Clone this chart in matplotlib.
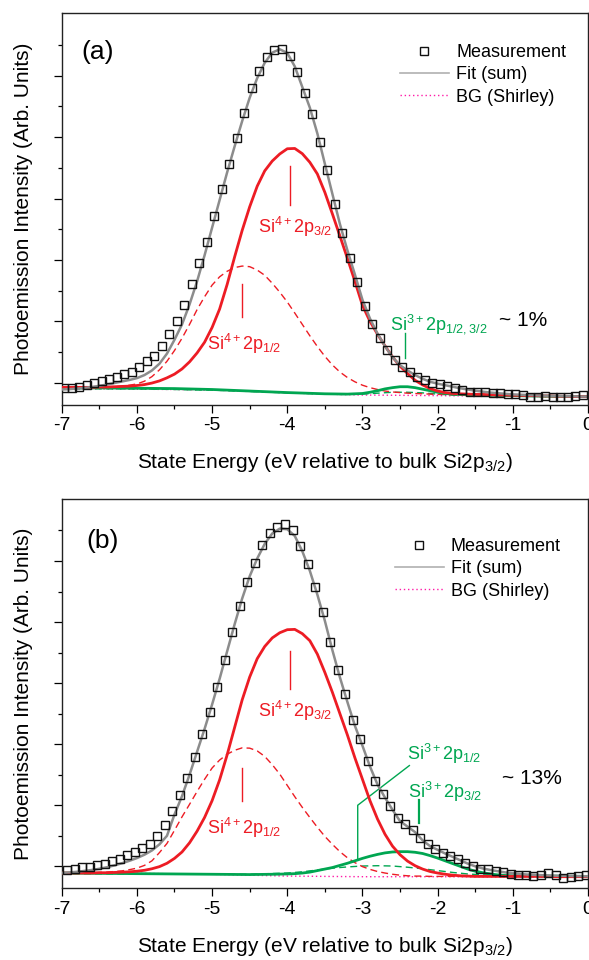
import numpy as np
import matplotlib
matplotlib.use("Agg")
import matplotlib.pyplot as plt
from matplotlib.lines import Line2D

plt.rcParams['font.family'] = ['Liberation Sans', 'DejaVu Sans']
plt.rcParams['mathtext.fontset'] = 'custom'
plt.rcParams['mathtext.rm'] = 'Liberation Sans'
plt.rcParams['mathtext.it'] = 'Liberation Sans:italic'
plt.rcParams['mathtext.bf'] = 'Liberation Sans:bold'
plt.rcParams['axes.unicode_minus'] = False

# Energy grids (eV relative to bulk Si2p3/2)
x_fit = np.round(np.linspace(-7.0, 0.0, 71), 2)
x_meas_a = np.round(np.linspace(-6.97, -0.07, 70), 2)
x_meas_b = np.round(np.linspace(-6.93, -0.03, 70), 2)

# ---------------- panel (a) ----------------
meas_a = [-0.16, -0.16, -0.13, -0.07, 0.00, 0.05, 0.11, 0.20, 0.27, 0.36,
          0.50, 0.70, 0.88, 1.20, 1.59, 2.02, 2.54, 3.20, 3.89, 4.57,
          5.44, 6.30, 7.13, 7.97, 8.77, 9.60, 10.14, 10.62, 10.84, 10.87,
          10.65, 10.11, 9.43, 8.76, 7.85, 6.93, 5.82, 4.89, 4.06, 3.29,
          2.50, 1.92, 1.47, 1.07, 0.73, 0.50, 0.35, 0.20, 0.10, 0.00,
          -0.05, -0.12, -0.17, -0.24, -0.31, -0.29, -0.29, -0.32, -0.35, -0.36,
          -0.38, -0.40, -0.45, -0.46, -0.44, -0.46, -0.48, -0.46, -0.43, -0.40]
fit_a = [-0.22, -0.21, -0.19, -0.17, -0.14, -0.10, -0.06, -0.01, 0.04, 0.09,
         0.15, 0.25, 0.40, 0.62, 0.95, 1.40, 1.90, 2.55, 3.30, 4.15,
         5.05, 5.95, 6.85, 7.70, 8.52, 9.28, 9.92, 10.42, 10.75, 10.86,
         10.74, 10.30, 9.63, 8.96, 8.12, 7.13, 6.15, 5.17, 4.31, 3.52,
         2.70, 2.09, 1.60, 1.19, 0.83, 0.57, 0.40, 0.25, 0.13, 0.03,
         -0.03, -0.08, -0.13, -0.18, -0.22, -0.26, -0.29, -0.32, -0.34, -0.36,
         -0.38, -0.39, -0.40, -0.41, -0.42, -0.43, -0.43, -0.44, -0.44, -0.45,
         -0.45]
si4_32_a = [-0.15, -0.15, -0.15, -0.15, -0.15, -0.14, -0.14, -0.13, -0.12, -0.11,
            -0.09, -0.06, -0.01, 0.06, 0.16, 0.28, 0.45, 0.68, 0.97, 1.32,
            1.80, 2.40, 3.20, 4.10, 4.96, 5.73, 6.40, 6.90, 7.22, 7.45,
            7.62, 7.63, 7.46, 7.18, 6.80, 6.20, 5.50, 4.78, 4.05, 3.30,
            2.52, 2.00, 1.58, 1.20, 0.84, 0.54, 0.30, 0.08, -0.07, -0.19,
            -0.27, -0.32, -0.35, -0.36, -0.37, -0.38, -0.38, -0.39, -0.40, -0.40,
            -0.41, -0.41, -0.42, -0.42, -0.43, -0.43, -0.44, -0.44, -0.45, -0.45,
            -0.45]
si4_12_a = [-0.17, -0.17, -0.17, -0.16, -0.16, -0.15, -0.14, -0.13, -0.11, -0.08,
            -0.04, 0.05, 0.20, 0.42, 0.70, 1.05, 1.45, 1.90, 2.38, 2.80,
            3.18, 3.45, 3.63, 3.75, 3.80, 3.78, 3.67, 3.50, 3.24, 2.95,
            2.63, 2.27, 1.90, 1.53, 1.18, 0.86, 0.58, 0.35, 0.17, 0.03,
            -0.08, -0.16, -0.22, -0.27, -0.30, -0.32, -0.34, -0.35, -0.36, -0.37,
            -0.38, -0.38, -0.39, -0.39, -0.40, -0.40, -0.41, -0.41, -0.41, -0.42,
            -0.42, -0.42, -0.43, -0.43, -0.43, -0.44, -0.44, -0.44, -0.45, -0.45,
            -0.45]
si3_x_a = [-7.0, -6.5, -6.0, -5.5, -5.0, -4.5, -4.0, -3.5, -3.2, -3.0, -2.9, -2.8,
           -2.7, -2.6, -2.5, -2.4, -2.3, -2.2, -2.1, -2.0, -1.9, -1.8, -1.5, -1.0,
           -0.5, 0.0]
si3_a = [-0.17, -0.17, -0.18, -0.19, -0.22, -0.27, -0.32, -0.36, -0.37, -0.35, -0.31, -0.26,
         -0.20, -0.16, -0.13, -0.13, -0.16, -0.21, -0.26, -0.31, -0.35, -0.37, -0.40, -0.42,
         -0.44, -0.45]
si3d_x_a = [-7.0, -6.0, -5.0, -4.0, -3.3, -3.0, -2.8, -2.6, -2.4, -2.2, -2.0, -1.8,
            -1.5, -1.0, -0.5, 0.0]
si3d_a = [-0.19, -0.20, -0.24, -0.33, -0.38, -0.37, -0.34, -0.31, -0.31, -0.33, -0.37, -0.40,
          -0.42, -0.44, -0.45, -0.46]
bg_x_a = [-7.0, -6.5, -6.0, -5.5, -5.0, -4.5, -4.0, -3.5, -3.0, -2.5, -2.0, -1.5,
          -1.0, -0.5, 0.0]
bg_a = [-0.20, -0.20, -0.21, -0.22, -0.24, -0.28, -0.33, -0.37, -0.40, -0.41, -0.42, -0.43,
        -0.44, -0.45, -0.46]

# ---------------- panel (b) ----------------
meas_b = [-0.12, -0.08, -0.01, -0.01, 0.03, 0.08, 0.17, 0.25, 0.36, 0.47,
          0.60, 0.72, 0.98, 1.35, 1.80, 2.35, 2.90, 3.59, 4.32, 5.06,
          5.87, 6.77, 7.67, 8.53, 9.32, 9.93, 10.52, 10.92, 11.11, 11.22,
          11.03, 10.49, 9.91, 9.15, 8.33, 7.36, 6.42, 5.64, 4.79, 4.16,
          3.46, 2.81, 2.38, 1.96, 1.59, 1.37, 1.18, 0.93, 0.72, 0.58,
          0.45, 0.34, 0.23, 0.12, 0.01, -0.08, -0.10, -0.15, -0.19, -0.26,
          -0.29, -0.29, -0.32, -0.29, -0.23, -0.29, -0.37, -0.35, -0.32, -0.29]
fit_b = [-0.22, -0.20, -0.18, -0.15, -0.12, -0.08, -0.03, 0.03, 0.10, 0.18,
         0.27, 0.38, 0.52, 0.72, 1.00, 1.70, 2.30, 3.00, 3.75, 4.50,
         5.30, 6.14, 7.04, 7.93, 8.77, 9.50, 10.08, 10.56, 10.90, 11.06,
         11.04, 10.82, 10.32, 9.68, 8.90, 8.04, 7.08, 6.19, 5.38, 4.60,
         3.95, 3.27, 2.68, 2.25, 1.85, 1.48, 1.30, 1.12, 0.85, 0.66,
         0.54, 0.42, 0.31, 0.20, 0.09, 0.00, -0.07, -0.12, -0.16, -0.20,
         -0.23, -0.25, -0.27, -0.28, -0.29, -0.30, -0.31, -0.31, -0.32, -0.32,
         -0.33]
si4_32_b = [-0.22, -0.22, -0.22, -0.22, -0.22, -0.21, -0.21, -0.20, -0.19, -0.18,
            -0.16, -0.13, -0.08, -0.01, 0.10, 0.26, 0.47, 0.77, 1.15, 1.60,
            2.15, 2.83, 3.65, 4.55, 5.45, 6.20, 6.80, 7.20, 7.48, 7.65,
            7.75, 7.76, 7.62, 7.39, 6.95, 6.35, 5.70, 5.00, 4.30, 3.55,
            2.85, 2.15, 1.55, 1.05, 0.66, 0.38, 0.17, 0.02, -0.09, -0.17,
            -0.22, -0.26, -0.29, -0.31, -0.32, -0.33, -0.33, -0.33, -0.33, -0.33,
            -0.33, -0.33, -0.33, -0.33, -0.33, -0.34, -0.34, -0.34, -0.34, -0.34,
            -0.34]
si4_12_b = [-0.22, -0.22, -0.22, -0.21, -0.21, -0.20, -0.19, -0.17, -0.15, -0.11,
            -0.06, 0.03, 0.18, 0.45, 0.75, 1.18, 1.62, 2.03, 2.45, 2.85,
            3.22, 3.48, 3.67, 3.80, 3.88, 3.87, 3.78, 3.60, 3.33, 3.02,
            2.65, 2.28, 1.93, 1.60, 1.28, 0.98, 0.72, 0.48, 0.28, 0.12,
            -0.01, -0.10, -0.17, -0.22, -0.26, -0.29, -0.31, -0.32, -0.32, -0.33,
            -0.33, -0.33, -0.33, -0.33, -0.33, -0.33, -0.33, -0.33, -0.33, -0.33,
            -0.33, -0.33, -0.33, -0.33, -0.34, -0.34, -0.34, -0.34, -0.34, -0.34,
            -0.34]
si3_x_b = [-7.0, -6.5, -6.0, -5.5, -5.0, -4.5, -4.2, -4.0, -3.9, -3.8, -3.7, -3.6,
           -3.5, -3.4, -3.3, -3.2, -3.1, -3.0, -2.9, -2.8, -2.7, -2.6, -2.5, -2.4,
           -2.3, -2.2, -2.1, -2.0, -1.9, -1.8, -1.7, -1.6, -1.5, -1.4, -1.3, -1.2,
           -1.1, -1.0, -0.5, 0.0]
si3_b = [-0.22, -0.23, -0.24, -0.25, -0.26, -0.27, -0.26, -0.25, -0.24, -0.22, -0.19, -0.14,
         -0.09, -0.04, 0.03, 0.10, 0.18, 0.26, 0.33, 0.39, 0.44, 0.47, 0.48, 0.48,
         0.46, 0.42, 0.35, 0.27, 0.18, 0.09, 0.00, -0.09, -0.16, -0.21, -0.25, -0.28,
         -0.30, -0.31, -0.32, -0.33]
si3d_x_b = [-7.0, -6.0, -5.0, -4.5, -4.0, -3.8, -3.6, -3.4, -3.2, -3.0, -2.8, -2.6,
            -2.4, -2.2, -2.0, -1.8, -1.6, -1.4, -1.2, -1.0, -0.5, 0.0]
si3d_b = [-0.24, -0.25, -0.26, -0.26, -0.22, -0.18, -0.12, -0.06, -0.02, 0.01, 0.02, 0.01,
          -0.03, -0.08, -0.14, -0.20, -0.25, -0.28, -0.30, -0.31, -0.32, -0.33]
bg_x_b = [-7.0, -6.0, -5.0, -4.5, -4.0, -3.5, -3.0, -2.0, -1.0, 0.0]
bg_b = [-0.22, -0.23, -0.26, -0.29, -0.32, -0.33, -0.34, -0.34, -0.35, -0.35]

RED = '#ed1c24'
GREEN = '#00a651'
GRAY = '#8c8c8c'
PINK = '#ff1aa8'
FS = 13

fig = plt.figure(figsize=(5.89, 9.6), dpi=100)
ax_a = fig.add_axes([0.1048, 0.5786, 0.8935, 0.4075])
ax_b = fig.add_axes([0.1048, 0.0750, 0.8935, 0.4052])


def draw_panel(ax, xm, meas, fit, p32, p12, gx, gy, gdx, gdy, bx, by):
    ax.plot(bx, by, color=PINK, lw=1.0, ls=(0, (1, 2)), zorder=2)
    ax.plot(gdx, gdy, color=GREEN, lw=1.0, ls=(0, (5, 3)), zorder=2)
    ax.plot(x_fit, p12, color=RED, lw=1.0, ls=(0, (5, 3)), zorder=3)
    ax.plot(gx, gy, color=GREEN, lw=2.0, zorder=3)
    ax.plot(x_fit, p32, color=RED, lw=2.0, zorder=4)
    ax.plot(x_fit, fit, color=GRAY, lw=1.8, zorder=5)
    ax.plot(xm, meas, ls='none', marker='s', ms=6.2, mfc='none', mec='#111111',
            mew=1.0, zorder=6)

    ax.set_xlim(-7, 0)
    ax.set_ylim(-0.71, 12.03)
    ax.set_xticks(range(-7, 1))
    ax.set_xticks(np.arange(-6.5, 0, 1.0), minor=True)
    ax.set_yticks(range(0, 12, 2))
    ax.set_yticks(range(1, 12, 2), minor=True)
    ax.set_yticklabels([])
    ax.tick_params(which='both', direction='out', width=0.9, labelsize=14, pad=3)
    ax.tick_params(which='major', length=6)
    ax.tick_params(which='minor', length=3.2)
    for s in ax.spines.values():
        s.set_linewidth(1.0)
        s.set_color('#222222')
    ax.set_ylabel('Photoemission Intensity (Arb. Units)', fontsize=15)
    ax.yaxis.set_label_coords(-0.055, 0.5)
    ax.set_xlabel(r'State Energy (eV relative to bulk Si2p$_{\mathrm{3/2}}$)', fontsize=15)
    ax.xaxis.set_label_coords(0.5, -0.12)

    # component labels
    ax.plot([-3.96, -3.96], [5.8, 7.05], color=RED, lw=1.0)
    ax.text(-3.90, 5.08, r'Si$^{\mathrm{4+}}$2p$_{\mathrm{3/2}}$', color=RED,
            fontsize=FS, ha='center', va='center')
    ax.plot([-4.60, -4.60], [2.15, 3.22], color=RED, lw=1.0)
    ax.text(-4.57, 1.25, r'Si$^{\mathrm{4+}}$2p$_{\mathrm{1/2}}$', color=RED,
            fontsize=FS, ha='center', va='center')


draw_panel(ax_a, x_meas_a, meas_a, fit_a, si4_32_a, si4_12_a,
           si3_x_a, si3_a, si3d_x_a, si3d_a, bg_x_a, bg_a)
draw_panel(ax_b, x_meas_b, meas_b, fit_b, si4_32_b, si4_12_b,
           si3_x_b, si3_b, si3d_x_b, si3d_b, bg_x_b, bg_b)

# panel (a) extras
ax_a.text(0.069, 0.90, '(a)', transform=ax_a.transAxes, fontsize=19,
          ha='center', va='center')
ax_a.plot([-2.44, -2.44], [0.79, 1.61], color=GREEN, lw=1.0)
ax_a.text(-2.64, 1.91, r'Si$^{\mathrm{3+}}$2p$_{\mathrm{1/2,3/2}}$', color=GREEN,
          fontsize=FS, ha='left', va='center')
ax_a.text(-1.18, 2.04, '~ 1%', fontsize=15, ha='left', va='center')

# panel (b) extras
ax_b.text(0.077, 0.892, '(b)', transform=ax_b.transAxes, fontsize=19,
          ha='center', va='center')
ax_b.plot([-2.376, -3.063, -3.063], [3.30, 2.00, 0.24], color=GREEN, lw=1.0)
ax_b.text(-2.41, 3.68, r'Si$^{\mathrm{3+}}$2p$_{\mathrm{1/2}}$', color=GREEN,
          fontsize=FS, ha='left', va='center')
ax_b.plot([-2.243, -2.243], [1.42, 2.18], color=GREEN, lw=1.6)
ax_b.text(-2.40, 2.43, r'Si$^{\mathrm{3+}}$2p$_{\mathrm{3/2}}$', color=GREEN,
          fontsize=FS, ha='left', va='center')
ax_b.text(-1.14, 2.87, '~ 13%', fontsize=15, ha='left', va='center')

# legends
handles = [Line2D([], [], ls='none', marker='s', ms=6.2, mfc='none', mec='#111111', mew=1.0),
           Line2D([], [], color='#b0b0b0', lw=1.2),
           Line2D([], [], color=PINK, lw=1.0, ls=(0, (1, 2)))]
labels = ['Measurement', 'Fit (sum)', 'BG (Shirley)']
for ax, anchor in [(ax_a, (0.643, 0.922)), (ax_b, (0.633, 0.90))]:
    ax.legend(handles, labels, loc='upper left', bbox_to_anchor=anchor,
              frameon=False, fontsize=FS, handlelength=2.7, handletextpad=0.4,
              labelspacing=0.3, borderpad=0, borderaxespad=0)

fig.savefig('out.png', dpi=100)
